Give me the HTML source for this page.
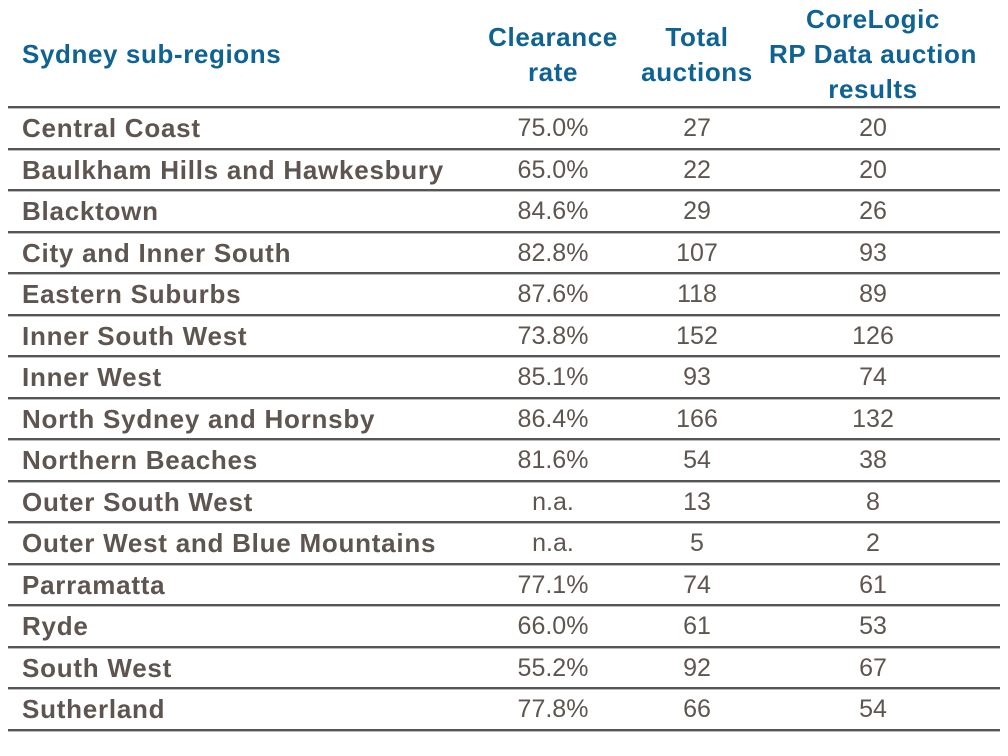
<!DOCTYPE html>
<html><head><meta charset="utf-8"><style>
body{margin:0;width:1008px;height:756px;background:#fff;overflow:hidden;font-family:"Liberation Sans",Arial,sans-serif;}
.h{position:absolute;color:#0f6394;font-weight:bold;font-size:26px;letter-spacing:0.6px;line-height:35px;text-align:center;}
.line{position:absolute;left:8px;width:992px;height:3px;background:#555;border-bottom:1px solid #bbb;box-sizing:border-box;}
.row{position:absolute;left:0;width:1008px;height:41.5px;line-height:41.5px;color:#5f5550;font-size:25px;}
.row span{position:absolute;top:0;}
.n{left:22px;font-weight:bold;font-size:26px;letter-spacing:0.75px;}
.c{left:473px;width:160px;text-align:center;}
.t{left:637px;width:120px;text-align:center;}
.r{left:793px;width:160px;text-align:center;}
</style></head><body>
<div class="h" style="left:22px;top:37px;text-align:left;">Sydney sub-regions</div>
<div class="h" style="left:463px;width:180px;top:20px;">Clearance<br>rate</div>
<div class="h" style="left:617px;width:160px;top:20px;">Total<br>auctions</div>
<div class="h" style="left:753px;width:240px;top:2px;">CoreLogic<br>RP Data auction<br>results</div>
<div id="tbl"></div>
<script>
const names=["Central Coast","Baulkham Hills and Hawkesbury","Blacktown","City and Inner South","Eastern Suburbs","Inner South West","Inner West","North Sydney and Hornsby","Northern Beaches","Outer South West","Outer West and Blue Mountains","Parramatta","Ryde","South West","Sutherland"];
const rates=["75.0%","65.0%","84.6%","82.8%","87.6%","73.8%","85.1%","86.4%","81.6%","n.a.","n.a.","77.1%","66.0%","55.2%","77.8%"];
const totals=[27,22,29,107,118,152,93,166,54,13,5,74,61,92,66];
const results=[20,20,26,93,89,126,74,132,38,8,2,61,53,67,54];
const tbl=document.getElementById('tbl');
const top0=106,pitch=41.5;
for(let i=0;i<=names.length;i++){
  const l=document.createElement('div');l.className='line';
  
  
  l.style.top=(top0+i*pitch)+'px';tbl.appendChild(l);
}
names.forEach((n,i)=>{
  const r=document.createElement('div');r.className='row';
  
  
  r.style.top=(top0+2+i*pitch)+'px';
  const vals=[[n,'n','region-name'],[rates[i],'c','clearance-rate'],[totals[i],'t','total-auctions'],[results[i],'r','corelogic-results']];
  vals.forEach(v=>{const s=document.createElement('span');s.className=v[1];s.textContent=v[0];
    
    
    r.appendChild(s);});
  tbl.appendChild(r);
});
</script>
</body></html>
